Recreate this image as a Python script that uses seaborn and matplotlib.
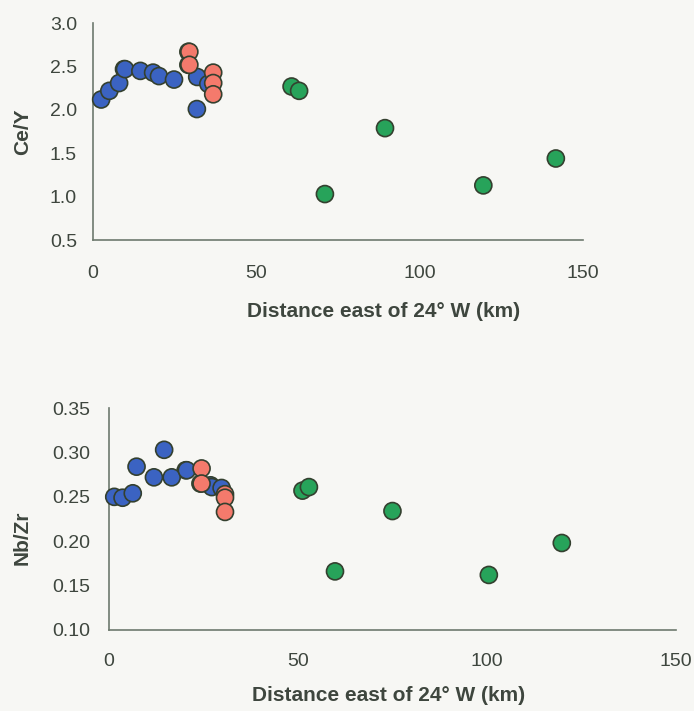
import pandas as pd
import matplotlib.pyplot as plt
import seaborn as sns

# Panel 1: Ce/Y vs distance
ce_group = ["green", "green", "green",
            "blue", "blue", "blue", "blue", "blue", "blue", "blue", "blue", "blue", "blue", "blue",
            "red", "red", "red", "red", "red",
            "green", "green", "green", "green", "green", "green"]
ce_dist = [9.5, 29.2, 29.2,
           2.5, 5.0, 8.0, 9.8, 14.5, 18.4, 20.2, 24.8, 31.9, 35.3, 31.8,
           29.5, 29.5, 36.8, 36.8, 36.8,
           60.8, 63.1, 71.0, 89.4, 119.5, 141.7]
ce_y = [2.47, 2.67, 2.52,
        2.12, 2.22, 2.31, 2.47, 2.45, 2.43, 2.39, 2.35, 2.38, 2.30, 2.01,
        2.67, 2.52, 2.43, 2.31, 2.18,
        2.27, 2.22, 1.03, 1.79, 1.13, 1.44]

# Panel 2: Nb/Zr vs distance
nb_group = ["green", "green",
            "blue", "blue", "blue", "blue", "blue", "blue", "blue", "blue", "blue", "blue", "blue",
            "red", "red", "red", "red", "red",
            "green", "green", "green", "green", "green", "green"]
nb_dist = [20.3, 24.2,
           1.4, 3.6, 6.3, 7.3, 14.6, 11.9, 16.6, 20.6, 26.9, 27.2, 29.8,
           24.5, 24.5, 30.7, 30.7, 30.7,
           51.2, 52.9, 59.8, 75.0, 100.5, 119.8]
nb_zr = [0.280, 0.265,
         0.250, 0.249, 0.254, 0.284, 0.303, 0.272, 0.272, 0.280, 0.263, 0.261, 0.260,
         0.282, 0.265, 0.253, 0.249, 0.233,
         0.257, 0.261, 0.166, 0.234, 0.162, 0.198]

palette = {"blue": "#3b63c2", "red": "#f47a6c", "green": "#27a35a"}

sns.set_style("white")
plt.rcParams["font.family"] = ["Liberation Sans", "DejaVu Sans"]

bg = "#f7f7f4"
axis_col = "#6e7a6e"
text_col = "#3e463e"

fig = plt.figure(figsize=(6.94, 7.11), dpi=100, facecolor=bg)
ax1 = fig.add_axes([0.134, 0.6624, 0.706, 0.305], facecolor=bg)
ax2 = fig.add_axes([0.157, 0.114, 0.817, 0.312], facecolor=bg)

df1 = pd.DataFrame({"dist": ce_dist, "val": ce_y, "grp": ce_group})
df2 = pd.DataFrame({"dist": nb_dist, "val": nb_zr, "grp": nb_group})

for ax, df, ylab, ylim, yticks, fmt in [
    (ax1, df1, "Ce/Y", (0.5, 3.0), [0.5, 1.0, 1.5, 2.0, 2.5, 3.0], "{:.1f}"),
    (ax2, df2, "Nb/Zr", (0.10, 0.35), [0.10, 0.15, 0.20, 0.25, 0.30, 0.35], "{:.2f}"),
]:
    sns.scatterplot(data=df, x="dist", y="val", hue="grp", palette=palette,
                    s=150, edgecolor="#34402f", linewidth=1.2, legend=False,
                    ax=ax, clip_on=False, zorder=3)
    ax.set_xlim(0, 150)
    ax.set_ylim(*ylim)
    ax.set_xticks([0, 50, 100, 150])
    ax.set_yticks(yticks)
    ax.set_yticklabels([fmt.format(v) for v in yticks])
    ax.tick_params(direction="in", length=5, width=1, color=axis_col,
                   labelsize=14, labelcolor=text_col)
    for side in ["top", "right"]:
        ax.spines[side].set_visible(False)
    for side in ["left", "bottom"]:
        ax.spines[side].set_color(axis_col)
        ax.spines[side].set_linewidth(1.2)
    ax.set_xlabel("Distance east of 24\u00b0 W (km)", fontsize=15,
                  fontweight="bold", color=text_col)
    ax.set_ylabel(ylab, fontsize=15, fontweight="bold", color=text_col)

ax1.tick_params(axis="x", pad=18)
ax1.tick_params(axis="y", pad=11.5)
ax2.tick_params(axis="x", pad=16.5)
ax2.tick_params(axis="y", pad=13.5)

ax1.xaxis.set_label_coords(0.594, -0.286)
ax2.xaxis.set_label_coords(0.494, -0.252)
ax1.yaxis.set_label_coords(-0.1245, 0.5)
ax2.yaxis.set_label_coords(-0.136, 0.414)

fig.savefig("out.png", dpi=100, facecolor=bg)
